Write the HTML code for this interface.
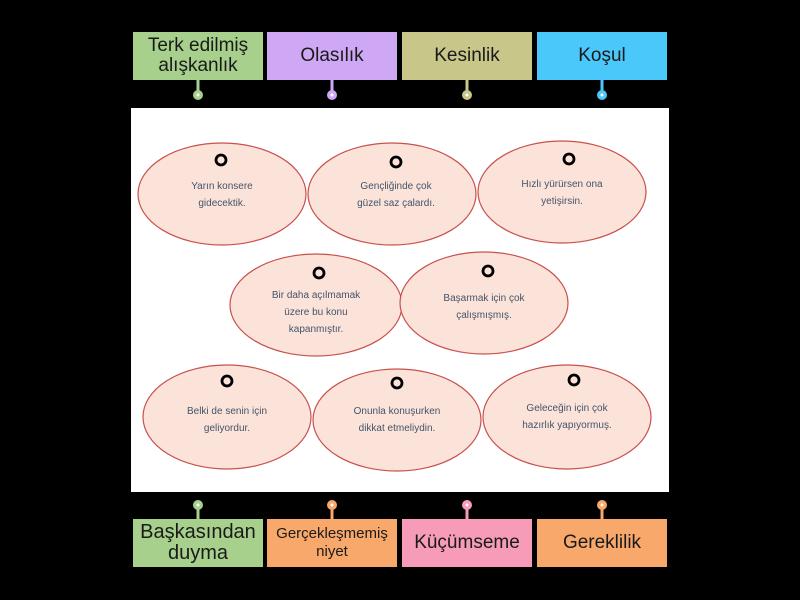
<!DOCTYPE html>
<html><head><style>
body{margin:0;background:#000;width:800px;height:600px;overflow:hidden;font-family:"Liberation Sans","DejaVu Sans",sans-serif}
.b{position:absolute;width:130px;height:48px;display:flex;align-items:center;justify-content:center;text-align:center;color:#1a1a1a;font-size:19px;line-height:20px}
</style></head><body>
<div class="b" style="left:133px;top:32px;background:#a8d08d">Terk edilmiş alışkanlık</div>
<div class="b" style="left:267px;top:32px;background:#cfa8f5">Olasılık</div>
<div class="b" style="left:402px;top:32px;background:#c9c68a">Kesinlik</div>
<div class="b" style="left:537px;top:32px;background:#4ac8fa">Koşul</div>
<div class="b" style="left:133px;top:519px;background:#a8d08d;font-size:20px;line-height:21px">Başkasından duyma</div>
<div class="b" style="left:267px;top:519px;background:#f8a86a;font-size:15px;line-height:18px">Gerçekleşmemiş niyet</div>
<div class="b" style="left:402px;top:519px;background:#f79cb8">Küçümseme</div>
<div class="b" style="left:537px;top:519px;background:#f8a86a">Gereklilik</div>
<svg width="800" height="600" style="position:absolute;left:0;top:0">
<g stroke-width="3">
<line x1="198" y1="80" x2="198" y2="94" stroke="#a8d08d"/><circle cx="198" cy="95" r="5" fill="#a8d08d" stroke="none"/>
<line x1="332" y1="80" x2="332" y2="94" stroke="#cfa8f5"/><circle cx="332" cy="95" r="5" fill="#cfa8f5" stroke="none"/>
<line x1="467" y1="80" x2="467" y2="94" stroke="#c9c68a"/><circle cx="467" cy="95" r="5" fill="#c9c68a" stroke="none"/>
<line x1="602" y1="80" x2="602" y2="94" stroke="#4ac8fa"/><circle cx="602" cy="95" r="5" fill="#4ac8fa" stroke="none"/>
<line x1="198" y1="506" x2="198" y2="519" stroke="#a8d08d"/><circle cx="198" cy="505" r="5" fill="#a8d08d" stroke="none"/>
<line x1="332" y1="506" x2="332" y2="519" stroke="#f8a86a"/><circle cx="332" cy="505" r="5" fill="#f8a86a" stroke="none"/>
<line x1="467" y1="506" x2="467" y2="519" stroke="#f79cb8"/><circle cx="467" cy="505" r="5" fill="#f79cb8" stroke="none"/>
<line x1="602" y1="506" x2="602" y2="519" stroke="#f8a86a"/><circle cx="602" cy="505" r="5" fill="#f8a86a" stroke="none"/>
</g>
<g fill="#fff"><circle cx="198" cy="95" r="1.5"/><circle cx="332" cy="95" r="1.5"/><circle cx="467" cy="95" r="1.5"/><circle cx="602" cy="95" r="1.5"/><circle cx="198" cy="505" r="1.5"/><circle cx="332" cy="505" r="1.5"/><circle cx="467" cy="505" r="1.5"/><circle cx="602" cy="505" r="1.5"/></g>
<rect x="131" y="108" width="538" height="384" fill="#fff"/>
<g fill="#fbe3d9" stroke="#c9504d" stroke-width="1.2">
<ellipse cx="222" cy="194" rx="84" ry="51"/>
<ellipse cx="392" cy="194" rx="84" ry="51"/>
<ellipse cx="562" cy="192" rx="84" ry="51"/>
<ellipse cx="316" cy="305" rx="86" ry="51"/>
<ellipse cx="484" cy="303" rx="84" ry="51"/>
<ellipse cx="227" cy="417" rx="84" ry="52"/>
<ellipse cx="397" cy="420" rx="84" ry="51"/>
<ellipse cx="567" cy="417" rx="84" ry="52"/>
</g>
<g fill="none" stroke="#000" stroke-width="2.8">
<circle cx="221" cy="160" r="5"/><circle cx="396" cy="162" r="5"/><circle cx="569" cy="159" r="5"/>
<circle cx="319" cy="273" r="5"/><circle cx="488" cy="271" r="5"/>
<circle cx="227" cy="381" r="5"/><circle cx="397" cy="383" r="5"/><circle cx="574" cy="380" r="5"/>
</g>
<g font-family="Liberation Sans, sans-serif" font-size="10" fill="#44546a" text-anchor="middle">
<text x="222" y="189">Yarın konsere</text><text x="222" y="206">gidecektik.</text>
<text x="396" y="189">Gençliğinde çok</text><text x="396" y="206">güzel saz çalardı.</text>
<text x="562" y="187">Hızlı yürürsen ona</text><text x="562" y="204">yetişirsin.</text>
<text x="316" y="298">Bir daha açılmamak</text><text x="316" y="315">üzere bu konu</text><text x="316" y="332">kapanmıştır.</text>
<text x="484" y="301">Başarmak için çok</text><text x="484" y="318">çalışmışmış.</text>
<text x="227" y="414">Belki de senin için</text><text x="227" y="431">geliyordur.</text>
<text x="397" y="414">Onunla konuşurken</text><text x="397" y="431">dikkat etmeliydin.</text>
<text x="567" y="411">Geleceğin için çok</text><text x="567" y="428">hazırlık yapıyormuş.</text>
</g>
</svg>
</body></html>
